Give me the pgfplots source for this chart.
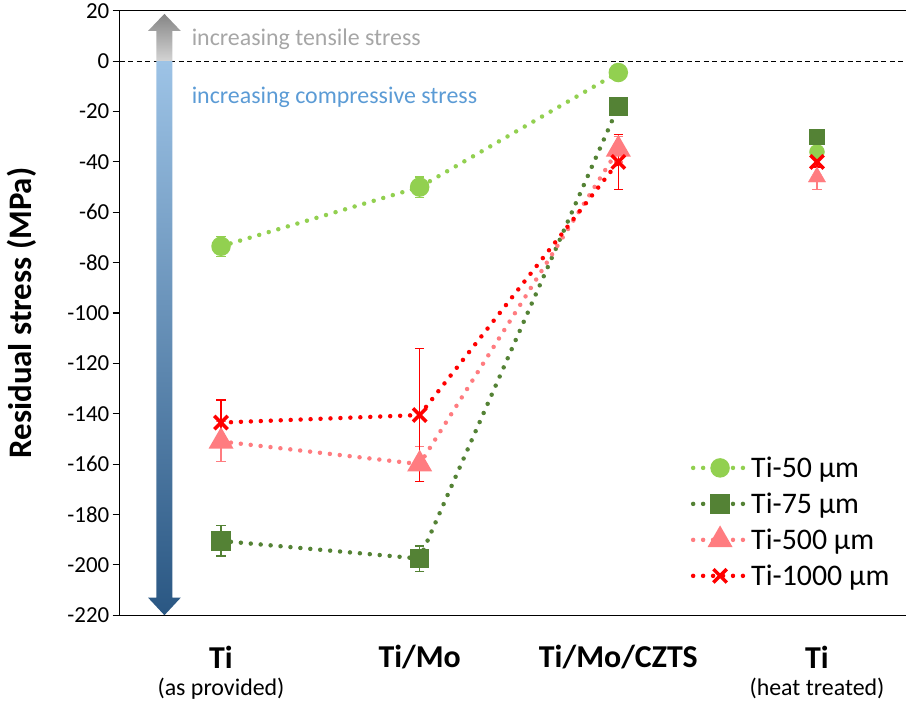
\documentclass[border=0pt]{standalone}
\usepackage{pgfplots}
\pgfplotsset{compat=1.18}
\usepackage{fontspec}
\setmainfont{Carlito}
\definecolor{cA}{HTML}{92D050}
\definecolor{cB}{HTML}{548235}
\definecolor{cC}{HTML}{FF7C80}
\definecolor{cD}{HTML}{FF0000}
\definecolor{grTop}{HTML}{858585}
\definecolor{grBot}{HTML}{D4D4D4}
\definecolor{blTop}{HTML}{9DC3E6}
\definecolor{blBot}{HTML}{2A5783}
\definecolor{txtGray}{HTML}{A6A6A6}
\definecolor{txtBlue}{HTML}{5B9BD5}
\tikzset{dots/.style={line width=4.5pt, line cap=round, dash pattern=on 0pt off 10pt}}
\begin{document}
\begin{tikzpicture}
\begin{axis}[
  scale only axis, width=790pt, height=607pt,
  xmin=-0.51, xmax=3.45, ymin=-220, ymax=20,
  axis x line*=box, axis y line*=left,
  axis line style={line width=1.3pt},
  ytick={-220,-200,...,20},
  xtick={0,1,2,3},
  xticklabels={{\textbf{Ti}\\[-6pt]{\fontsize{24}{26}\selectfont\mdseries (as provided)}},
               {\textbf{Ti/Mo}},
               {\textbf{Ti/Mo/CZTS}},
               {\textbf{Ti}\\[-6pt]{\fontsize{24}{26}\selectfont\mdseries (heat treated)}}},
  x tick style={draw=none},
  y tick style={black, line width=1.1pt},
  tick align=outside, major tick length=7pt,
  xticklabel style={font=\fontsize{32}{34}\selectfont, align=center, anchor=north, yshift=-20pt},
  yticklabel style={font=\fontsize{23}{25}\selectfont},
  /pgf/number format/assume math mode=true,
  ylabel={\textbf{Residual stress (MPa)}},
  ylabel style={font=\fontsize{33}{36}\selectfont},
  ylabel shift=24pt,
  legend style={draw=none, fill=none, font=\fontsize{30}{32}\selectfont,
    at={(0.985,0.04)}, anchor=south east, row sep=10pt, cells={anchor=west}},
  legend image code/.code={\draw[mark repeat=2,mark phase=2] plot coordinates {(0cm,0cm) (0.95cm,0cm) (1.9cm,0cm)};},
  error bars/y dir=both, error bars/y explicit,
]
\draw[dashed, line width=1.1pt, dash pattern=on 5pt off 3.5pt] (axis cs:-0.51,0) -- (axis cs:3.45,0);
\shade[top color=grTop, bottom color=grBot] (axis cs:-0.325,0) -- (axis cs:-0.325,12) -- (axis cs:-0.3675,12) -- (axis cs:-0.285,18.8) -- (axis cs:-0.2025,12) -- (axis cs:-0.245,12) -- (axis cs:-0.245,0) -- cycle;
\shade[top color=blTop, bottom color=blBot] (axis cs:-0.325,0) -- (axis cs:-0.325,-213) -- (axis cs:-0.3675,-213) -- (axis cs:-0.285,-220) -- (axis cs:-0.2025,-213) -- (axis cs:-0.245,-213) -- (axis cs:-0.245,0) -- cycle;
\node[anchor=west, text=txtGray, font=\fontsize{24}{26}\selectfont] at (axis cs:-0.165,8.9) {increasing tensile stress};
\node[anchor=west, text=txtBlue, font=\fontsize{24}{26}\selectfont] at (axis cs:-0.165,-14.4) {increasing compressive stress};

% Ti-50
\addplot[cA, dots, mark=*, mark size=7.5pt, mark options={solid, fill=cA},
  error bars/error bar style={solid, line width=1.3pt, line cap=butt},
  error bars/error mark options={rotate=90, mark size=4.7pt, line width=1.3pt}]
  coordinates {(0,-73.5) +- (0,4) (1,-50) +- (0,4) (2,-4.5) +- (0,2)};
\addlegendentry{Ti-50 µm}
% Ti-75
\addplot[cB, dots, mark=square*, mark size=7.5pt, mark options={solid, fill=cB},
  error bars/error bar style={solid, line width=1.3pt, line cap=butt},
  error bars/error mark options={rotate=90, mark size=4.7pt, line width=1.3pt}]
  coordinates {(0,-190.5) +- (0,6) (1,-197.5) +- (0,5) (2,-18) +- (0,2)};
\addlegendentry{Ti-75 µm}
% Ti-500
\addplot[cC, dots, mark=triangle*, mark size=10pt, mark options={solid, fill=cC},
  error bars/error bar style={solid, line width=1.3pt, line cap=butt},
  error bars/error mark options={rotate=90, mark size=4.7pt, line width=1.3pt}]
  coordinates {(0,-151) +- (0,8) (1,-160) +- (0,7) (2,-35) +- (0,5)};
\addlegendentry{Ti-500 µm}
% Ti-1000
\addplot[cD, dots, mark=x, mark size=9.5pt, mark options={solid, line width=3.5pt, line cap=butt},
  error bars/error bar style={solid, line width=1.3pt, line cap=butt},
  error bars/error mark options={rotate=90, mark size=4.7pt, line width=1.3pt}]
  coordinates {(0,-143.5) +- (0,9) (1,-140.5) +- (0,26.5) (2,-40) +- (0,11)};
\addlegendentry{Ti-1000 µm}

% heat treated (not connected)
\addplot[cA, only marks, mark=*, mark size=7.5pt, mark options={solid, fill=cA}, forget plot,
  error bars/error bar style={solid, line width=1.3pt},
  error bars/error mark options={rotate=90, mark size=4.7pt, line width=1.3pt}]
  coordinates {(3,-36) +- (0,2)};
\addplot[cB, only marks, mark=square*, mark size=7.5pt, mark options={solid, fill=cB}, forget plot,
  error bars/error bar style={solid, line width=1.3pt},
  error bars/error mark options={rotate=90, mark size=4.7pt, line width=1.3pt}]
  coordinates {(3,-30) +- (0,2)};
\addplot[cC, only marks, mark=triangle*, mark size=10pt, mark options={solid, fill=cC}, forget plot,
  error bars/error bar style={solid, line width=1.3pt},
  error bars/error mark options={rotate=90, mark size=4.7pt, line width=1.3pt}]
  coordinates {(3,-46) +- (0,5)};
\addplot[cD, only marks, mark=x, mark size=9.5pt, mark options={solid, line width=3.5pt, line cap=butt}, forget plot,
  error bars/error bar style={solid, line width=1.3pt},
  error bars/error mark options={rotate=90, mark size=4.7pt, line width=1.3pt}]
  coordinates {(3,-40) +- (0,2)};
\end{axis}
\path (current bounding box.west) ++(-4pt,0);
\end{tikzpicture}
\end{document}
